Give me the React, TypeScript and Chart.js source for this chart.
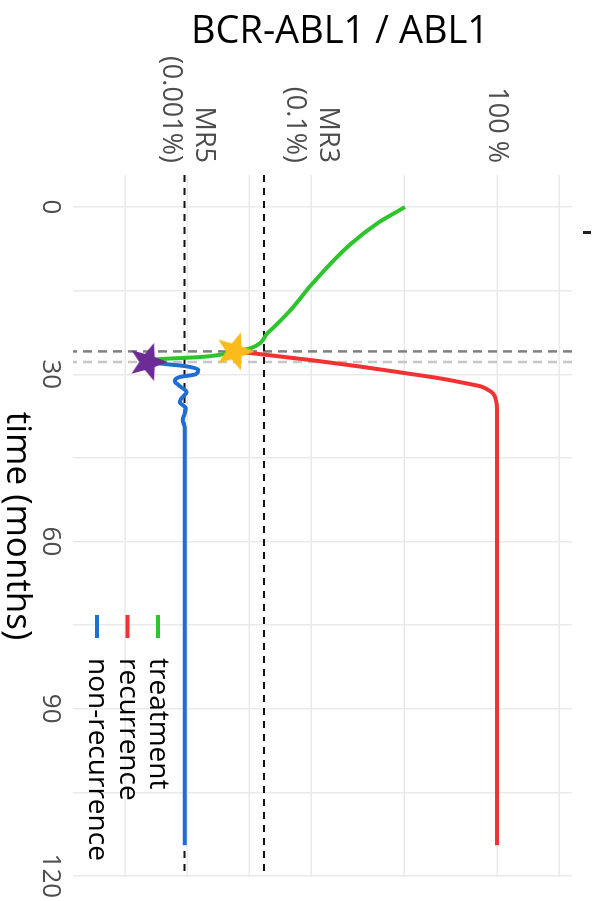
import React, { useEffect, useRef } from 'react';
import { Chart, registerables } from 'chart.js';

Chart.register(...registerables);

// ---- data (time in months, BCR-ABL1/ABL1 in %) ----
const timeTicks = [0, 15, 30, 45, 60, 75, 90, 105, 120];
const timeTickLabels = ['0', '', '30', '', '60', '', '90', '', '120'];
const ratioTicks = [0.0001, 0.001, 0.01, 0.1, 3.1623, 100, 1000];
const ratioTickLabels: (string | string[])[] = ['', ['MR5', '(0.001%)'], '', ['MR3', '(0.1%)'], '', '100 %', ''];

const treatmentMonths = [0, 2.7, 6.8, 13.6, 18.5, 22.6, 25.3, 25.9, 26.9, 27.3, 27.8];
const treatmentPct = [3.29, 1.26, 0.421, 0.108, 0.0465, 0.02, 0.0107, 0.00617, 0.0017, 0.000355, 0.000245];

const recurrenceMonths = [25.9, 27.5, 28.6, 29.8, 30.7, 31.6, 32.2, 32.8, 33.4, 34.6, 36.4, 114.5];
const recurrencePct = [0.00617, 0.107, 0.603, 3.31, 11.5, 30.9, 55.6, 71.8, 86.3, 96.4, 100, 100];

const nonRecurrenceMonths = [27.8, 28.2, 28.5, 29.2, 30.0, 30.5, 31.2, 32.1, 33.2, 34.3, 35.0, 36.1, 37.1, 38.2, 39.6, 114.5];
const nonRecurrencePct = [0.000245, 0.000468, 0.000871, 0.00151, 0.00138, 0.000759, 0.000631, 0.000759, 0.000977, 0.000813, 0.000759, 0.000955, 0.000912, 0.000851, 0.000912, 0.000912];

const markerMonths = [25.9, 27.8];
const markerPct = [0.00617, 0.000245];
const markerColors = ['#FBBC1B', '#6B2C95'];

const responseLevels = [0.00091, 0.0174]; // black dashed
const eventMonths = [25.9, 27.8]; // grey dashed
const eventColors = ['#7F7F7F', '#C6C6C6'];

const seriesLabels = ['treatment', 'recurrence', 'non-recurrence'];
const seriesColors = ['#2EC42E', '#F23232', '#1E6FCF'];

const FONT = "'Open Sans', 'Noto Sans', sans-serif";

function makeStar(color: string, outer: number, inner: number) {
  const size = Math.ceil(outer * 2 + 2);
  const c = document.createElement('canvas');
  c.width = size;
  c.height = size;
  const ctx = c.getContext('2d')!;
  ctx.fillStyle = color;
  ctx.beginPath();
  for (let i = 0; i < 10; i++) {
    const r = i % 2 === 0 ? outer : inner;
    const a = -Math.PI / 2 + (i * Math.PI) / 5;
    const px = size / 2 + r * Math.cos(a);
    const py = size / 2 + 1.5 + r * Math.sin(a);
    if (i === 0) ctx.moveTo(px, py);
    else ctx.lineTo(px, py);
  }
  ctx.closePath();
  ctx.fill();
  return c;
}

const refLinesPlugin = {
  id: 'refLines',
  beforeDatasetsDraw(chart: any) {
    const { ctx, chartArea: a, scales } = chart;
    ctx.save();
    ctx.beginPath();
    ctx.rect(a.left, a.top, a.right - a.left, a.bottom - a.top);
    ctx.clip();
    eventMonths.forEach((m, i) => {
      const x = scales.x.getPixelForValue(m);
      ctx.strokeStyle = eventColors[i];
      ctx.lineWidth = 2.5;
      ctx.setLineDash([9, 6]);
      ctx.beginPath();
      ctx.moveTo(x, a.top);
      ctx.lineTo(x, a.bottom);
      ctx.stroke();
    });
    responseLevels.forEach((v) => {
      const y = scales.y.getPixelForValue(v);
      ctx.strokeStyle = '#111111';
      ctx.lineWidth = 2;
      ctx.setLineDash([7, 6]);
      ctx.beginPath();
      ctx.moveTo(a.left, y);
      ctx.lineTo(a.right, y);
      ctx.stroke();
    });
    ctx.restore();
  },
};

const decorPlugin = {
  id: 'decor',
  afterDraw(chart: any) {
    const { ctx, chartArea: a } = chart;
    ctx.save();
    // axis titles
    ctx.fillStyle = '#000000';
    ctx.textAlign = 'center';
    ctx.textBaseline = 'middle';
    ctx.font = `38px ${FONT}`;
    ctx.save();
    ctx.translate(32, 253);
    ctx.rotate(-Math.PI / 2);
    ctx.fillText('BCR-ABL1 / ABL1', 0, 0);
    ctx.restore();
    ctx.font = `35px ${FONT}`;
    ctx.fillText('time (months)', (a.left + a.right) / 2, 576);

    // legend
    ctx.font = `28px ${FONT}`;
    ctx.textAlign = 'left';
    const ds = chart.data.datasets.filter((d: any) => d.inLegend);
    ds.forEach((d: any, i: number) => {
      const y = 435 + i * 30.5;
      ctx.strokeStyle = d.borderColor;
      ctx.lineWidth = 4;
      ctx.beginPath();
      ctx.moveTo(615, y);
      ctx.lineTo(638, y);
      ctx.stroke();
      ctx.fillStyle = '#000000';
      ctx.fillText(d.label, 658, y);
    });

    // clipped remnant at top edge
    ctx.fillStyle = '#222222';
    ctx.fillRect(231, 2, 3, 8);
    ctx.restore();
  },
};

function zeroPad(s: any) {
  s.paddingLeft = 0;
  s.paddingRight = 0;
  s.paddingTop = 0;
  s.paddingBottom = 0;
}

export default function App() {
  const ref = useRef<HTMLCanvasElement>(null);

  useEffect(() => {
    if (!ref.current) return;
    const stars = markerColors.map((c) => makeStar(c, 20, 8.5));
    const series = [
      { months: treatmentMonths, pct: treatmentPct, order: 3 },
      { months: recurrenceMonths, pct: recurrencePct, order: 2 },
      { months: nonRecurrenceMonths, pct: nonRecurrencePct, order: 1 },
    ];
    const chart = new Chart(ref.current, {
      type: 'line',
      data: {
        datasets: [
          {
            label: 'markers',
            data: markerMonths.map((m, i) => ({ x: m, y: markerPct[i] })),
            showLine: false,
            pointStyle: stars as any,
            pointRadius: 20,
            order: 0,
          } as any,
          ...series.map((s, k) => ({
            label: seriesLabels[k],
            inLegend: true,
            data: s.months.map((m, i) => ({ x: m, y: s.pct[i] })),
            borderColor: seriesColors[k],
            backgroundColor: seriesColors[k],
            borderWidth: 4,
            pointRadius: 0,
            tension: 0.4,
            cubicInterpolationMode: 'monotone',
            borderCapStyle: 'butt',
            order: s.order,
          })),
        ],
      },
      options: {
        animation: false,
        responsive: false,
        devicePixelRatio: 1,
        layout: { padding: { top: 14, right: 24, left: 0, bottom: 0 } },
        plugins: { legend: { display: false }, tooltip: { enabled: false } },
        scales: {
          x: {
            type: 'linear',
            min: -5.75,
            max: 120.2,
            afterBuildTicks: (s: any) => {
              s.ticks = timeTicks.map((v) => ({ value: v }));
            },
            afterFit: (s: any) => {
              s.height = 73;
              zeroPad(s);
            },
            ticks: {
              autoSkip: false,
              maxRotation: 0,
              padding: 7,
              color: '#4D4D4D',
              font: { family: FONT, size: 26 },
              callback: (_v: any, i: number) => timeTickLabels[i],
            },
            grid: { color: '#EAEAEA', lineWidth: 1.5, drawTicks: false },
            border: { display: false },
          },
          y: {
            type: 'logarithmic',
            min: 1.44e-5,
            max: 1630,
            afterBuildTicks: (s: any) => {
              s.ticks = ratioTicks.map((v) => ({ value: v }));
            },
            afterFit: (s: any) => {
              s.width = 175;
              zeroPad(s);
            },
            ticks: {
              autoSkip: false,
              padding: 12,
              color: '#4D4D4D',
              font: { family: FONT, size: 27, lineHeight: 1.2 },
              callback: (_v: any, i: number) => ratioTickLabels[i],
            },
            grid: { color: '#EAEAEA', lineWidth: 1.5, drawTicks: false },
            border: { display: false },
          },
        },
      } as any,
      plugins: [refLinesPlugin, decorPlugin],
    });
    return () => chart.destroy();
  }, []);

  return (
    <div
      style={{
        position: 'fixed',
        left: 0,
        top: 0,
        width: 901,
        height: 593,
        transform: 'translate(593px, 0px) rotate(90deg)',
        transformOrigin: '0 0',
        background: '#ffffff',
      }}
    >
      <canvas ref={ref} width={901} height={593} style={{ display: 'block', width: 901, height: 593 }} />
    </div>
  );
}
